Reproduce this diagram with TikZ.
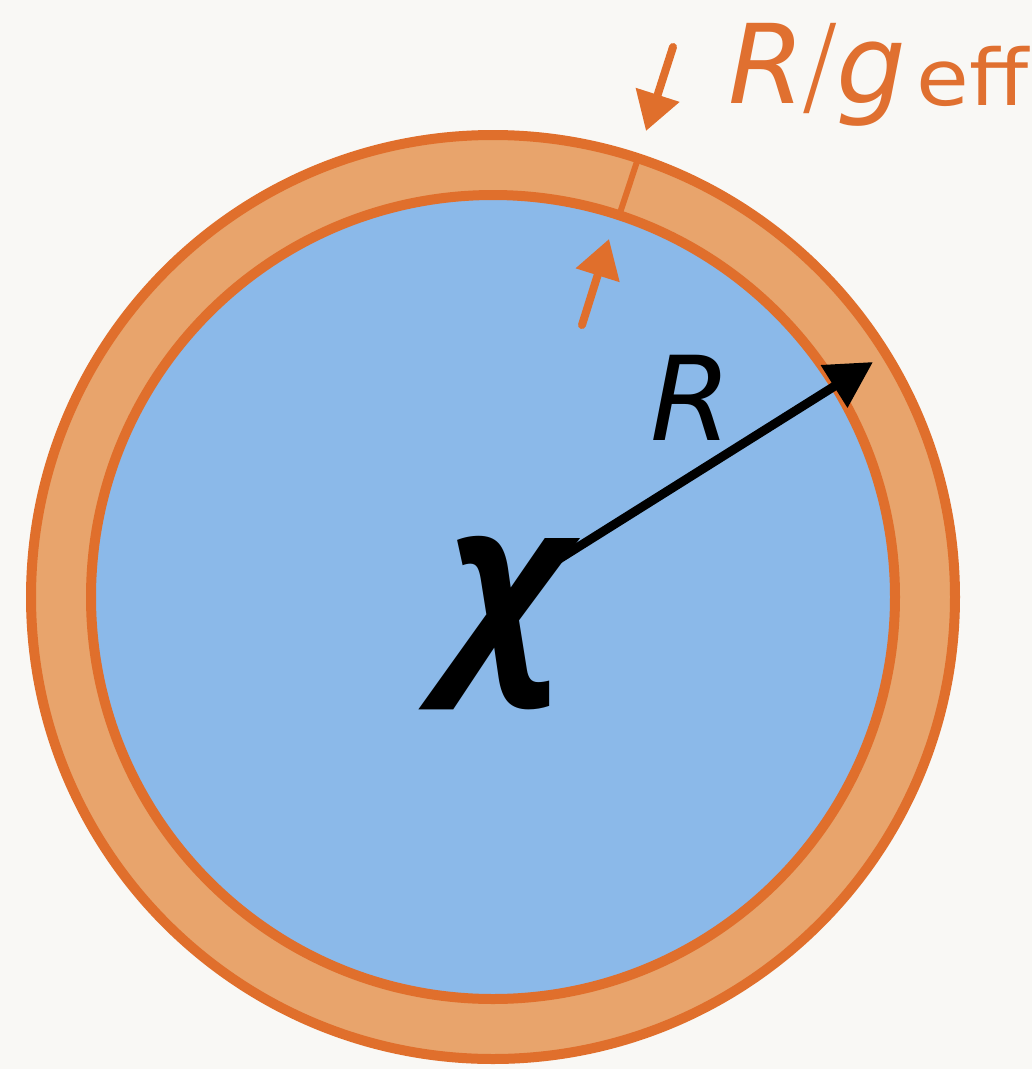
\documentclass[tikz,border=0pt]{standalone}
\usepackage{fontspec}
\setmainfont{DejaVu Sans}
\newfontfamily\chifont{Open Sans}
\usetikzlibrary{arrows.meta}
\definecolor{bg}{HTML}{F9F8F5}
\definecolor{ringfill}{HTML}{E8A46C}
\definecolor{orline}{HTML}{E06F2C}
\definecolor{bluefill}{HTML}{8BB9E9}
\definecolor{ortext}{HTML}{E07030}
\tikzset{
  orarrow/.style={draw=orline, line width=8pt, line cap=round, -{Triangle[length=38pt,width=44pt]}},
  blackarrow/.style={draw=black, line width=9pt, -{Triangle[length=46pt,width=48pt]}},
  lbl/.style={anchor=base west, inner sep=0pt, outer sep=0pt}
}
\begin{document}
\begin{tikzpicture}[x=1pt,y=-1pt]
\fill[bg] (0,0) rectangle (1032,1069);
\useasboundingbox (0,0) rectangle (1032,1069);
\coordinate (c) at (493,597);
% ring
\draw[orline, fill=ringfill, line width=10pt] (c) circle[radius=462];
\draw[orline, fill=bluefill, line width=10pt] (c) circle[radius=402];
% tick
\coordinate (t1) at ([shift={(c)}]-71.7:402);
\coordinate (t2) at ([shift={(c)}]-71.7:462);
\draw[orline, line width=6pt] (t1) -- (t2);
% small arrows
\coordinate (a1s) at (673,47);
\coordinate (a1e) at (646,131);
\coordinate (a2s) at (582,325);
\coordinate (a2e) at (609,239);
\draw[orarrow] (a1s) -- (a1e);
\draw[orarrow] (a2s) -- (a2e);
% radius arrow
\coordinate (rs) at (540,571);
\coordinate (re) at (873,362);
\draw[blackarrow] (rs) -- (re);
% labels
\node[lbl, text=ortext] (rg) at (728,103) {\fontsize{110}{110}\selectfont\itshape R\kern4pt\scalebox{0.6}[1]{/}\kern6pt g\kern10pt\raisebox{-2pt}{\upshape\fontsize{78}{78}\selectfont\scalebox{1.1}[1]{eff}}};
\node[lbl] (rl) at (650,440) {\fontsize{117}{117}\selectfont\itshape R};
\node[lbl] (chi) at (446,657) {\chifont\fontsize{218}{218}\selectfont\bfseries\itshape χ};
\end{tikzpicture}
\end{document}
